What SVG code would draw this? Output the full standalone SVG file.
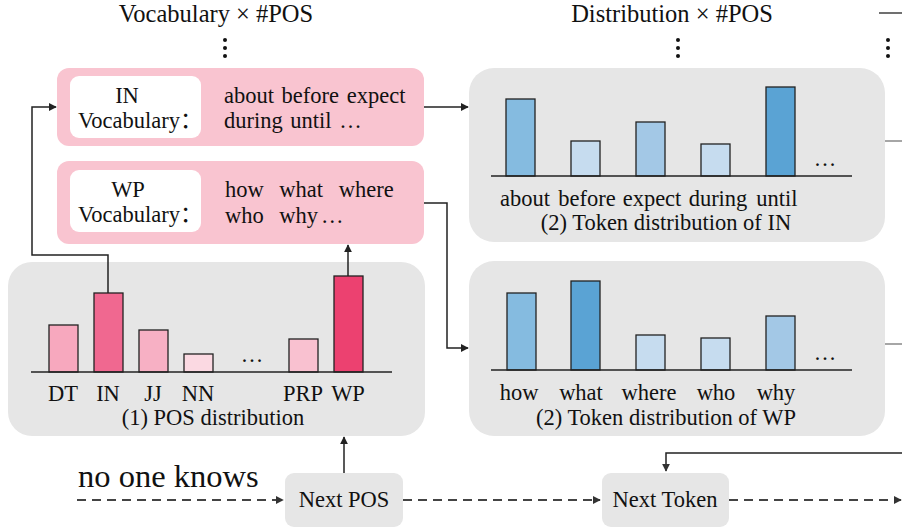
<svg xmlns="http://www.w3.org/2000/svg" width="902" height="528" viewBox="0 0 902 528">
<defs>
<style>
text{font-family:"Liberation Serif","Times New Roman","Noto Sans CJK SC",serif;fill:#111}
.t18{font-size:22.5px}
.t20{font-size:24.5px}
.pink{fill:#f9c4d0}
.white{fill:#fff}
.gray{fill:#e6e6e6}
.bar{stroke:#222;stroke-width:1.3}
.axis{stroke:#222;stroke-width:1.3;fill:none}
.con{stroke:#222;stroke-width:1.5;fill:none}
.dash{stroke:#444;stroke-width:1.8;fill:none;stroke-dasharray:9 6}
.side{stroke:#888;stroke-width:1.5;fill:none}
.mid{text-anchor:middle}
</style>
<marker id="arr" viewBox="0 0 10 10" refX="9" refY="5" markerWidth="8" markerHeight="8" markerUnits="userSpaceOnUse" orient="auto">
<path d="M0,0 L10,5 L0,10 z" fill="#222"/>
</marker>
<marker id="arrd" viewBox="0 0 10 10" refX="9" refY="5" markerWidth="8" markerHeight="8" markerUnits="userSpaceOnUse" orient="auto">
<path d="M0,0 L10,5 L0,10 z" fill="#333"/>
</marker>
</defs>

<g id="titles">
<text class="t20 mid" x="216" y="22">Vocabulary × #POS</text>
<text class="t20 mid" x="672" y="22">Distribution × #POS</text>
<g fill="#111">
<circle cx="225" cy="40" r="2"/><circle cx="225" cy="48" r="2"/><circle cx="225" cy="56" r="2"/>
<circle cx="678" cy="40" r="2"/><circle cx="678" cy="48" r="2"/><circle cx="678" cy="56" r="2"/>
<circle cx="888" cy="40" r="2"/><circle cx="888" cy="48" r="2"/><circle cx="888" cy="56" r="2"/>
</g>
<line x1="879" y1="13" x2="902" y2="13" stroke="#222" stroke-width="1.3"/>
</g>

<g id="in-vocab">
<rect class="pink" x="57" y="68" width="367" height="78" rx="12"/>
<rect class="white" x="70" y="76" width="131" height="62" rx="9"/>
<text class="t18 mid" x="127" y="103">IN</text>
<text class="t18" x="78" y="128">Vocabulary：</text>
<text class="t18" x="224" y="103" word-spacing="2">about before expect</text>
<text class="t18" x="224" y="128" word-spacing="2">during until …</text>
</g>

<g id="wp-vocab">
<rect class="pink" x="57" y="161" width="367" height="83" rx="12"/>
<rect class="white" x="70" y="170" width="131" height="62" rx="9"/>
<text class="t18 mid" x="128" y="197">WP</text>
<text class="t18" x="78" y="222">Vocabulary：</text>
<text class="t18" x="225" y="197" word-spacing="10">how what where</text>
<text class="t18" x="225" y="223" word-spacing="10">who why</text>
<text class="t18" x="321" y="223">…</text>
</g>

<g id="pos-dist">
<rect class="gray" x="8" y="262" width="417" height="174" rx="24"/>
<rect class="bar" x="49" y="325" width="29" height="47" fill="#f7a8be"/>
<rect class="bar" x="94" y="293" width="29" height="79" fill="#f06890"/>
<rect class="bar" x="139" y="330" width="29" height="42" fill="#f7b0c4"/>
<rect class="bar" x="184" y="354" width="29" height="18" fill="#fbd9e2"/>
<rect class="bar" x="289" y="339" width="29" height="33" fill="#f9c1d0"/>
<rect class="bar" x="334" y="276" width="29" height="96" fill="#ec4170"/>
<line class="axis" x1="31" y1="372" x2="392" y2="372"/>
<text class="t18 mid" x="252" y="362">…</text>
<text class="t18 mid" x="63" y="401">DT</text>
<text class="t18 mid" x="108" y="401">IN</text>
<text class="t18 mid" x="153" y="401">JJ</text>
<text class="t18 mid" x="198" y="401">NN</text>
<text class="t18 mid" x="303" y="401">PRP</text>
<text class="t18 mid" x="348" y="401">WP</text>
<text class="t18 mid" x="213" y="425">(1) POS distribution</text>
</g>

<g id="in-token-dist">
<rect class="gray" x="469" y="68" width="416" height="174" rx="25"/>
<rect class="bar" x="506" y="99" width="29" height="77" fill="#85bbe0"/>
<rect class="bar" x="571" y="141" width="29" height="35" fill="#c6dcef"/>
<rect class="bar" x="636" y="122" width="29" height="54" fill="#a3c8e6"/>
<rect class="bar" x="701" y="144" width="29" height="32" fill="#c6dcef"/>
<rect class="bar" x="766" y="87" width="29" height="89" fill="#5aa3d4"/>
<line class="axis" x1="491" y1="176" x2="852" y2="176"/>
<text class="t18 mid" x="825" y="166">…</text>
<text class="t18 mid" x="525" y="206">about</text>
<text class="t18 mid" x="587" y="206">before</text>
<text class="t18 mid" x="652" y="206">expect</text>
<text class="t18 mid" x="718" y="206">during</text>
<text class="t18 mid" x="777" y="206">until</text>
<text class="t18 mid" x="666" y="230">(2) Token distribution of  IN</text>
</g>

<g id="wp-token-dist">
<rect class="gray" x="469" y="261" width="416" height="175" rx="25"/>
<rect class="bar" x="507" y="293" width="29" height="77" fill="#85bbe0"/>
<rect class="bar" x="571" y="281" width="29" height="89" fill="#5aa3d4"/>
<rect class="bar" x="636" y="335" width="29" height="35" fill="#c6dcef"/>
<rect class="bar" x="701" y="338" width="29" height="32" fill="#c6dcef"/>
<rect class="bar" x="766" y="316" width="29" height="54" fill="#a3c8e6"/>
<line class="axis" x1="491" y1="370" x2="852" y2="370"/>
<text class="t18 mid" x="825" y="360">…</text>
<text class="t18 mid" x="519" y="400">how</text>
<text class="t18 mid" x="581" y="400">what</text>
<text class="t18 mid" x="649" y="400">where</text>
<text class="t18 mid" x="716" y="400">who</text>
<text class="t18 mid" x="776" y="400">why</text>
<text class="t18 mid" x="666" y="425">(2) Token distribution of WP</text>
</g>

<g id="input-text">
<text x="78" y="487" font-size="32.5">no one knows</text>
</g>

<g id="next-pos">
<rect class="gray" x="285" y="473" width="118" height="54" rx="9"/>
<text class="t18 mid" x="344" y="507">Next POS</text>
</g>

<g id="next-token">
<rect class="gray" x="602" y="473" width="127" height="54" rx="9"/>
<text class="t18 mid" x="665" y="507">Next Token</text>
</g>

<g id="connectors">
<polyline class="con" points="108,293 108,255 32,255 32,107 56,107" marker-end="url(#arr)"/>
<line class="con" x1="348" y1="276" x2="348" y2="245" marker-end="url(#arr)"/>
<line class="con" x1="424" y1="107" x2="468" y2="107" marker-end="url(#arr)"/>
<polyline class="con" points="424,203 447,203 447,348 468,348" marker-end="url(#arr)"/>
<line class="con" x1="344" y1="473" x2="344" y2="437" marker-end="url(#arr)"/>
<line class="dash" x1="77" y1="500" x2="283" y2="500" marker-end="url(#arrd)"/>
<line class="dash" x1="403" y1="500" x2="600" y2="500" marker-end="url(#arrd)"/>
<line class="dash" x1="729" y1="500" x2="901" y2="500" marker-end="url(#arrd)"/>
<polyline class="con" points="902,453 666,453 666,471" stroke="#444" marker-end="url(#arrd)"/>
<line class="side" x1="885" y1="141" x2="902" y2="141"/>
<line class="side" x1="885" y1="344" x2="902" y2="344"/>
</g>
</svg>
